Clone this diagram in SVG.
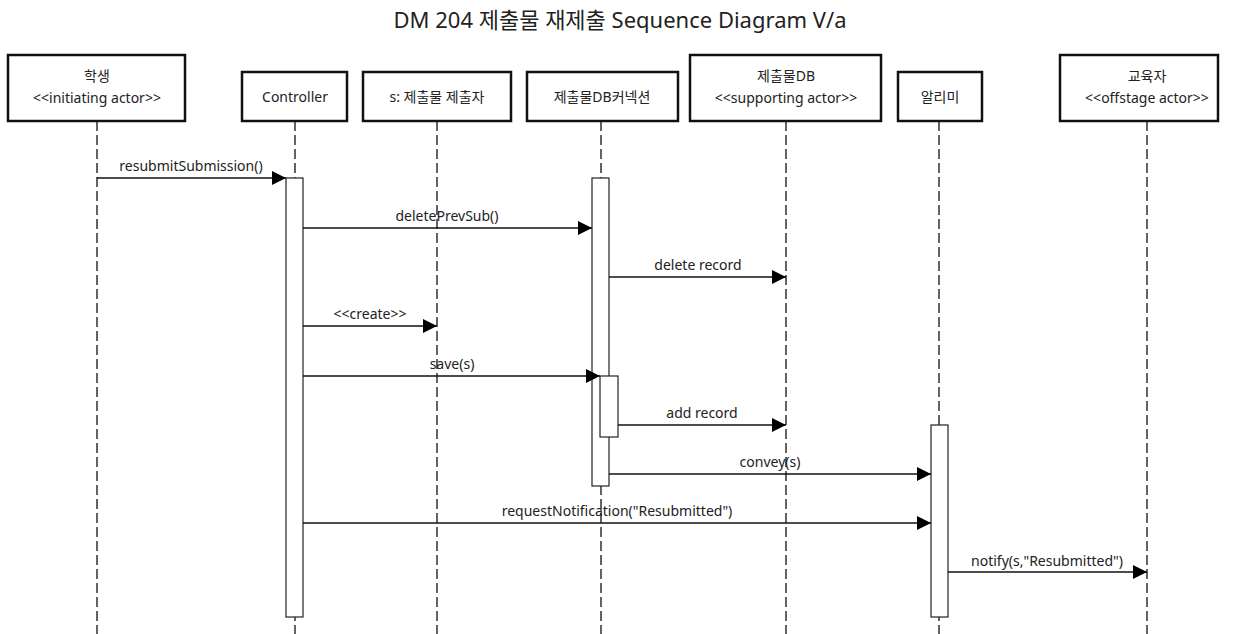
<svg xmlns="http://www.w3.org/2000/svg" width="1241" height="634" viewBox="0 0 1241 634">
<style>
text{font-family:"Noto Sans","Noto Sans CJK KR",sans-serif;font-size:14px;fill:#222;text-anchor:middle}
.title{font-size:22px}
.box{fill:#fff;stroke:#111;stroke-width:2.5}
.life{stroke:#111;stroke-width:1.3;stroke-dasharray:10 4;fill:none}
.act{fill:#fff;stroke:#222;stroke-width:1.2}
.msg{stroke:#111;stroke-width:1.3;fill:none;marker-end:url(#arr)}
</style>
<defs>
<marker id="arr" markerWidth="14" markerHeight="14" refX="14" refY="7" orient="auto" markerUnits="userSpaceOnUse">
<path d="M0,0 L14,7 L0,14 Z" fill="#000"/>
</marker>
</defs>
<rect width="1241" height="634" fill="#fff"/>
<text class="title" x="620" y="28">DM 204 제출물 재제출 Sequence Diagram V/a</text>
<g id="lifelines">
<line class="life" x1="97" y1="121" x2="97" y2="634"/>
<line class="life" x1="295" y1="121" x2="295" y2="634"/>
<line class="life" x1="437" y1="121" x2="437" y2="634"/>
<line class="life" x1="601" y1="121" x2="601" y2="634"/>
<line class="life" x1="786" y1="121" x2="786" y2="634"/>
<line class="life" x1="939" y1="121" x2="939" y2="634"/>
<line class="life" x1="1147" y1="121" x2="1147" y2="634"/>
</g>
<g id="student"><rect class="box" x="8" y="55" width="177" height="66"/><text x="97" y="81">학생</text><text x="97" y="103">&lt;&lt;initiating actor&gt;&gt;</text></g>
<g id="controller"><rect class="box" x="242" y="72" width="105" height="49"/><text x="295" y="102">Controller</text></g>
<g id="submitter"><rect class="box" x="363" y="72" width="148" height="49"/><text x="437" y="102">s: 제출물 제출자</text></g>
<g id="dbconn"><rect class="box" x="527" y="72" width="151" height="49"/><text x="602" y="102">제출물DB커넥션</text></g>
<g id="db"><rect class="box" x="690" y="55" width="191" height="66"/><text x="786" y="81">제출물DB</text><text x="786" y="103">&lt;&lt;supporting actor&gt;&gt;</text></g>
<g id="notifier"><rect class="box" x="898" y="72" width="84" height="49"/><text x="940" y="102">알리미</text></g>
<g id="educator"><rect class="box" x="1060" y="55" width="158" height="66"/><text x="1147" y="81">교육자</text><text x="1147" y="103">&lt;&lt;offstage actor&gt;&gt;</text></g>
<g id="activations">
<rect class="act" x="286" y="178" width="17" height="439"/>
<rect class="act" x="592" y="178" width="17" height="308"/>
<rect class="act" x="600" y="376" width="18" height="61"/>
<rect class="act" x="931" y="425" width="17" height="192"/>
</g>
<g id="connectors">
<line class="msg" x1="97" y1="178" x2="286" y2="178"/><text x="191" y="171">resubmitSubmission()</text>
<line class="msg" x1="303" y1="228" x2="592" y2="228"/><text x="447" y="221">deletePrevSub()</text>
<line class="msg" x1="609" y1="277" x2="786" y2="277"/><text x="698" y="270">delete record</text>
<line class="msg" x1="303" y1="326" x2="437" y2="326"/><text x="370" y="319">&lt;&lt;create&gt;&gt;</text>
<line class="msg" x1="303" y1="376" x2="600" y2="376"/><text x="452" y="369">save(s)</text>
<line class="msg" x1="618" y1="425" x2="786" y2="425"/><text x="702" y="418">add record</text>
<line class="msg" x1="609" y1="474" x2="931" y2="474"/><text x="770" y="467">convey(s)</text>
<line class="msg" x1="303" y1="523" x2="931" y2="523"/><text x="617" y="516">requestNotification("Resubmitted")</text>
<line class="msg" x1="948" y1="572" x2="1147" y2="572"/><text x="1047" y="566">notify(s,"Resubmitted")</text>
</g>
</svg>
